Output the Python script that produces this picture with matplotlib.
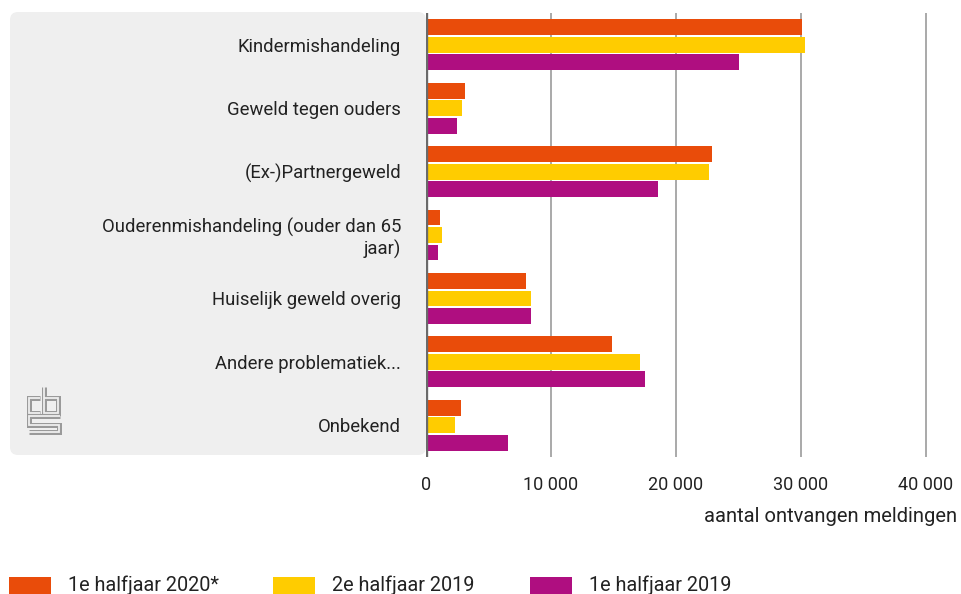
import numpy as np
import matplotlib
matplotlib.use("Agg")
import matplotlib.pyplot as plt
from matplotlib.patches import FancyBboxPatch, Rectangle
from matplotlib.ticker import FuncFormatter

plt.rcParams['font.family'] = ['Roboto', 'DejaVu Sans']

# data
categories = ["Kindermishandeling", "Geweld tegen ouders", "(Ex-)Partnergeweld",
              "Ouderenmishandeling (ouder dan 65\njaar)", "Huiselijk geweld overig",
              "Andere problematiek...", "Onbekend"]
h1_2020 = [30050, 3150, 22900, 1150, 8030, 14900, 2770]
h2_2019 = [30300, 2900, 22600, 1280, 8430, 17100, 2350]
h1_2019 = [25000, 2500, 18550, 990, 8430, 17500, 6530]
series_names = ["1e halfjaar 2020*", "2e halfjaar 2019", "1e halfjaar 2019"]
colors = ["#e94c0a", "#ffcc00", "#af0e80"]
xticks = [0, 10000, 20000, 30000, 40000]

W, H = 961, 594
fig = plt.figure(figsize=(W / 100, H / 100), dpi=100)

# background overlay in pixel coordinates
bg = fig.add_axes([0, 0, 1, 1], zorder=0)
bg.set_xlim(0, W)
bg.set_ylim(H, 0)
bg.axis('off')
bg.add_patch(FancyBboxPatch((10, 12), 416, 443, boxstyle="round,pad=0,rounding_size=8",
                            fc="#efefef", ec="none"))

# cbs logo, drawn as outlined strokes
logo_paths = [
    [(40, 398), (29, 398), (29, 413), (40, 413)],
    [(44, 387), (44, 413), (58, 413), (58, 398), (44, 398)],
    [(60, 416), (29, 416), (29, 424.5), (59, 424.5), (59, 432), (29, 432)],
]
for p in logo_paths:
    xs, ys = zip(*p)
    bg.plot(xs, ys, color="#9a9a9a", lw=3.6, solid_capstyle='butt', solid_joinstyle='miter')
    bg.plot(xs, ys, color="#efefef", lw=1.3, solid_capstyle='butt', solid_joinstyle='miter')

# legend at the bottom
leg_x = [9, 273, 530]
for x0, name, c in zip(leg_x, series_names, colors):
    bg.add_patch(Rectangle((x0, 577), 42, 20, fc=c, ec="none"))
    bg.text(x0 + 59, 585, name, fontsize=14.3, color="#222222", va='center', ha='left')

# main chart
ax = fig.add_axes([426 / W, 1 - 457 / H, (951 - 426) / W, (457 - 13) / H], zorder=1)
ax.patch.set_alpha(0)
y = np.arange(len(categories))
pitch = 0.275
bh = 0.25
for i, (vals, c) in enumerate(zip([h1_2020, h2_2019, h1_2019], colors)):
    ax.barh(y + (i - 1) * pitch, vals, height=bh, color=c, zorder=3)

ax.set_xlim(0, 42000)
ax.set_ylim(6.5, -0.5)
for v in xticks[1:]:
    ax.axvline(v, color="#a3a3a3", lw=1.3, zorder=1)
ax.axvline(0, color="#6a6a6a", lw=2.4, zorder=4)

for s in ax.spines.values():
    s.set_visible(False)
ax.set_xticks(xticks)
ax.xaxis.set_major_formatter(FuncFormatter(lambda v, p: f"{int(v):,}".replace(",", " ")))
ax.tick_params(axis='x', length=0, pad=14, labelsize=13, labelcolor="#222222")
ax.set_yticks(y)
ax.set_yticklabels(categories)
ax.tick_params(axis='y', length=0, pad=18, labelsize=13.3, labelcolor="#222222")

fig.text(957 / W, 1 - 517 / H, "aantal ontvangen meldingen", ha='right', va='center',
         fontsize=14.5, color="#222222")

fig.savefig("out.png", dpi=100)
